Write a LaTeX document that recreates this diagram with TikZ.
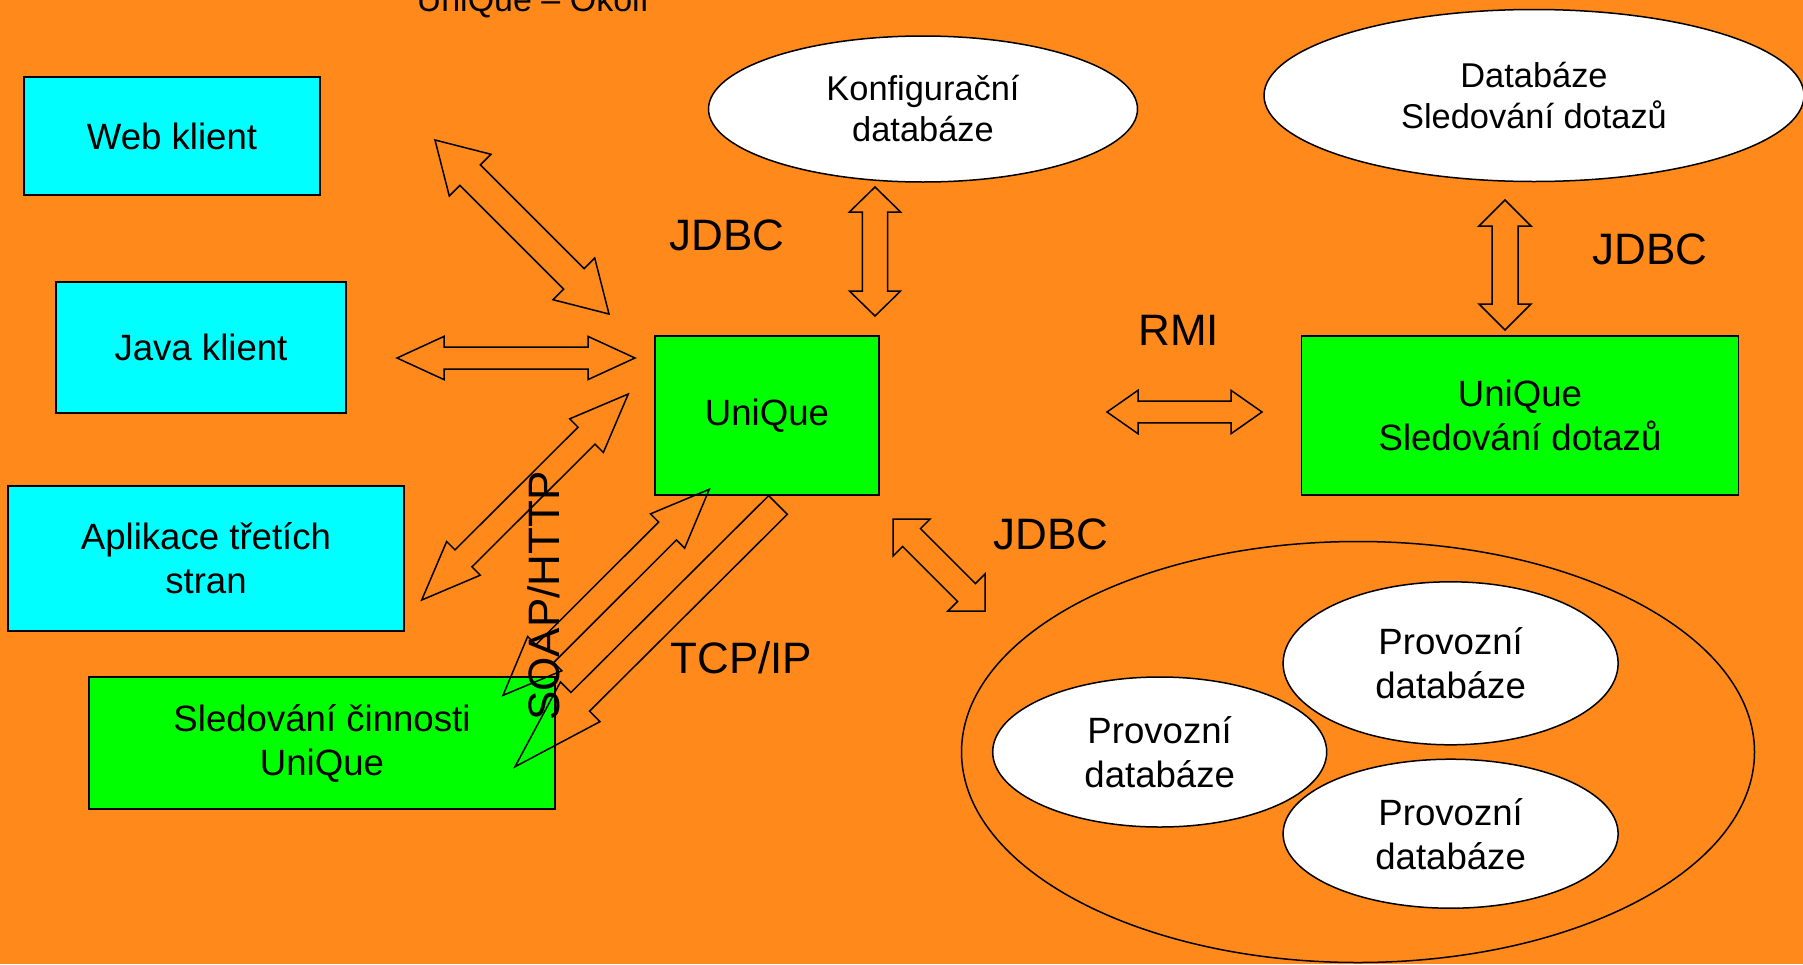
\documentclass[tikz,border=0pt]{standalone}
\usepackage{fontspec}
\setmainfont{Liberation Sans}
\usetikzlibrary{shapes}
\usetikzlibrary{calc}

\definecolor{bgorange}{RGB}{255,137,26}
\definecolor{boxcyan}{RGB}{0,255,255}
\definecolor{boxgreen}{RGB}{0,255,0}

% block arrows: from, to, head length, head half width, shaft half width
\newcommand{\dblarrow}[5]{%
	\draw[blockarrow] (#1)
		-- ($(#1)!#3!(#2)!#4!90:(#2)$) -- ($(#1)!#3!(#2)!#5!90:(#2)$)
		-- ($(#2)!#3!(#1)!#5!-90:(#1)$) -- ($(#2)!#3!(#1)!#4!-90:(#1)$)
		-- (#2)
		-- ($(#2)!#3!(#1)!#4!90:(#1)$) -- ($(#2)!#3!(#1)!#5!90:(#1)$)
		-- ($(#1)!#3!(#2)!#5!-90:(#2)$) -- ($(#1)!#3!(#2)!#4!-90:(#2)$)
		-- cycle;}
\newcommand{\onearrow}[5]{%
	\draw[blockarrow] ($(#1)!#5!90:(#2)$)
		-- ($(#2)!#3!(#1)!#5!-90:(#1)$) -- ($(#2)!#3!(#1)!#4!-90:(#1)$)
		-- (#2)
		-- ($(#2)!#3!(#1)!#4!90:(#1)$) -- ($(#2)!#3!(#1)!#5!90:(#1)$)
		-- ($(#1)!#5!-90:(#2)$) -- cycle;}

\begin{document}
\begin{tikzpicture}[x = 1pt, y = -1pt,
	client/.style = {draw, line width = 1.8pt, fill = boxcyan, align = center, inner sep = 0pt, font = \fontsize{36.6}{44}\selectfont},
	server/.style = {client, fill = boxgreen},
	dbase/.style = {draw, ellipse, line width = 1.5pt, fill = white, align = center, inner sep = 0pt, font = \fontsize{34.4}{41}\selectfont},
	proto/.style = {inner sep = 0pt, font = \fontsize{44}{53}\selectfont},
	blockarrow/.style = {draw, line width = 1.5pt}]

	\useasboundingbox (0,0) rectangle (1803,964);
	\fill[bgorange] (0,0) rectangle (1803,964);

	\node[anchor = base, font = \fontsize{34}{41}\selectfont] (title) at (533,11) {UniQue -- Okolí};

	\node[client, minimum width = 296pt, minimum height = 118pt] (web) at (172,136) {Web klient};
	\node[client, minimum width = 290pt, minimum height = 131pt] (java) at (201,347.5) {Java klient};
	\node[client, minimum width = 396pt, minimum height = 145pt] (app) at (206,558.5) {Aplikace třetích\\stran};
	\node[server, minimum width = 466pt, minimum height = 132pt] (mon) at (322,743) {Sledování činnosti\\UniQue};
	\node[server, minimum width = 224pt, minimum height = 159pt] (uq) at (767,415.5) {UniQue};
	\node[server, minimum width = 437pt, minimum height = 159pt] (uqs) at (1520,415.5) {UniQue\\Sledování dotazů};

	\node[dbase, minimum width = 429pt, minimum height = 146pt] (cfg) at (923,109) {Konfigurační\\databáze};
	\node[dbase, minimum width = 540pt, minimum height = 172pt] (qdb) at (1534,95.5) {Databáze\\Sledování dotazů};
	\node[dbase, fill = none, minimum width = 793pt, minimum height = 421pt] (prod) at (1358,752) {};
	\node[dbase, font = \fontsize{36.6}{44}\selectfont, minimum width = 335pt, minimum height = 163pt] (p1) at (1450.6,663.3) {Provozní\\databáze};
	\node[dbase, font = \fontsize{36.6}{44}\selectfont, minimum width = 334pt, minimum height = 150pt] (p2) at (1159.7,752) {Provozní\\databáze};
	\node[dbase, font = \fontsize{36.6}{44}\selectfont, minimum width = 335pt, minimum height = 149pt] (p3) at (1450.6,833.7) {Provozní\\databáze};

	\node[proto] (jdbc1) at (726.7,235) {JDBC};
	\node[proto] (jdbc2) at (1649.7,249) {JDBC};
	\node[proto] (jdbc3) at (1050.8,534.7) {JDBC};
	\node[proto] (rmi) at (1178.7,330) {RMI};
	\node[proto] (tcp) at (741.3,657.8) {TCP/IP};
	\node[proto, rotate = 90] (soap) at (544,596) {SOAP/HTTP};

	\coordinate (w1) at (435,140);
	\coordinate (w2) at (609,314);
	\coordinate (j1) at (397,358);
	\coordinate (j2) at (635,358);
	\coordinate (a1) at (421.7,600);
	\coordinate (a2) at (628.3,394);
	\coordinate (m1) at (503,695.3);
	\coordinate (m2) at (709.3,489.3);
	\coordinate (t1) at (778,505);
	\coordinate (t2) at (515,766.7);
	\coordinate (c1) at (875,187);
	\coordinate (c2) at (875,316);
	\coordinate (r1) at (1107,412);
	\coordinate (r2) at (1262,412);
	\coordinate (q1) at (1505,200);
	\coordinate (q2) at (1505,330);
	\coordinate (d1) at (893,519);
	\coordinate (d2) at (985,611);

	\dblarrow{w1}{w2}{49.7pt}{29.5pt}{14.5pt}
	\dblarrow{j1}{j2}{47pt}{21.6pt}{11pt}
	\dblarrow{a1}{a2}{59pt}{23.8pt}{12pt}
	\dblarrow{m1}{m2}{59pt}{24.2pt}{12.6pt}
	\onearrow{t1}{t2}{92pt}{28pt}{13.2pt}
	\dblarrow{c1}{c2}{25pt}{25.6pt}{12.7pt}
	\dblarrow{r1}{r2}{31pt}{21.7pt}{10.8pt}
	\dblarrow{q1}{q2}{26pt}{26pt}{13pt}
	\dblarrow{d1}{d2}{26.2pt}{26.2pt}{12.6pt}

\end{tikzpicture}
\end{document}
